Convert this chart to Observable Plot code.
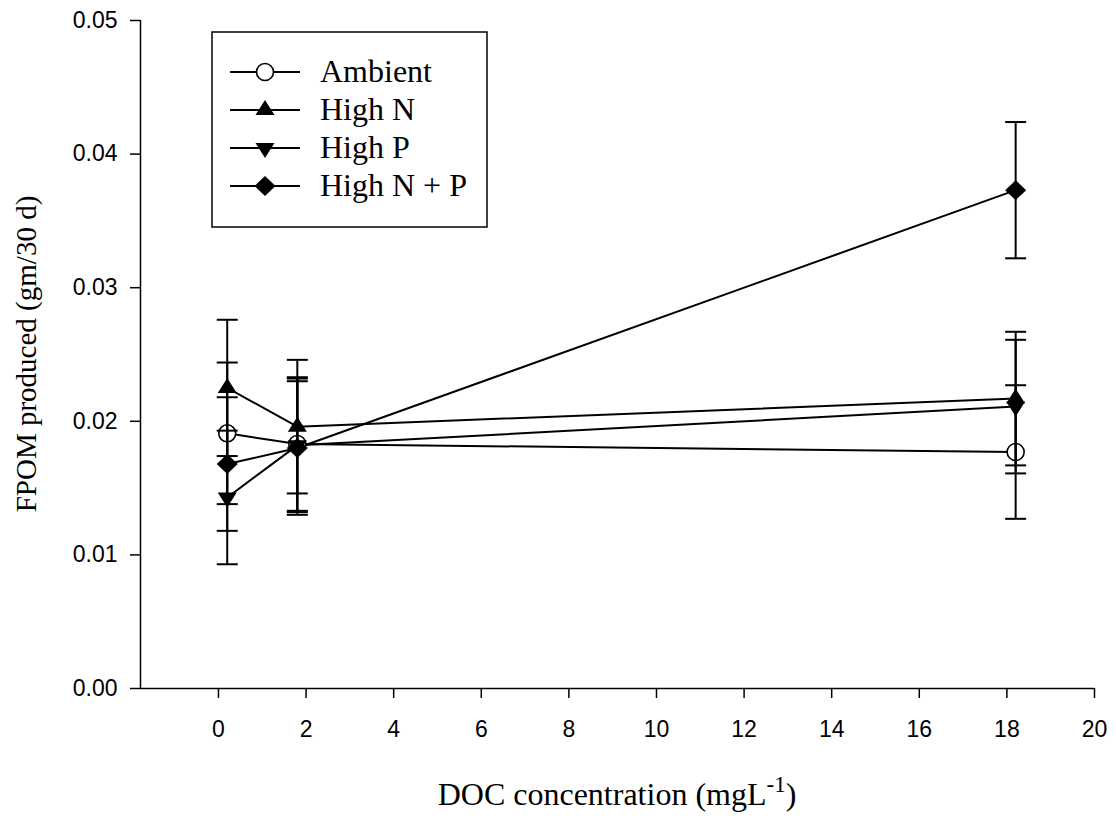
<!DOCTYPE html>
<html>
<head>
<meta charset="utf-8">
<script src="https://cdn.jsdelivr.net/npm/d3@7"></script>
<script src="https://cdn.jsdelivr.net/npm/@observablehq/plot@0.6"></script>
<style>
  html, body { margin: 0; padding: 0; background: #fff; }
  svg { display: block; }
</style>
</head>
<body>
<div id="chart"></div>
<script>
// ---- data ----
const series = ["Ambient", "High N", "High P", "High N + P"];
const doc = [0.2, 1.8, 18.2];
const ambient    = [0.0191, 0.0183, 0.0177];
const ambientErr = [0.0053, 0.0050, 0.0050];
const highN      = [0.0225, 0.0196, 0.0217];
const highNErr   = [0.0051, 0.0050, 0.0050];
const highP      = [0.0143, 0.0182, 0.0211];
const highPErr   = [0.0050, 0.0050, 0.0050];
const highNP     = [0.0168, 0.0180, 0.0373];
const highNPErr  = [0.0050, 0.0050, 0.0051];
const xTicks = [0, 2, 4, 6, 8, 10, 12, 14, 16, 18, 20];
const yTicks = [0, 0.01, 0.02, 0.03, 0.04, 0.05];

const values = [ambient, highN, highP, highNP];
const errors = [ambientErr, highNErr, highPErr, highNPErr];
const rows = series.flatMap((s, i) => doc.map((x, j) => ({
  series: s, x, y: values[i][j], lo: values[i][j] - errors[i][j], hi: values[i][j] + errors[i][j]
})));

// ---- custom symbols ----
const circleSym = {draw(c) { c.moveTo(8.5, 0); c.arc(0, 0, 8.5, 0, 2 * Math.PI); c.closePath(); }};
const upTri = {draw(c) { c.moveTo(0, -10); c.lineTo(9.5, 5); c.lineTo(-9.5, 5); c.closePath(); }};
const downTri = {draw(c) { c.moveTo(0, 10); c.lineTo(9.5, -5); c.lineTo(-9.5, -5); c.closePath(); }};
const diamondSym = {draw(c) { c.moveTo(0, -10); c.lineTo(10.5, 0); c.lineTo(0, 10); c.lineTo(-10.5, 0); c.closePath(); }};
const capSym = {draw(c) { c.moveTo(-10.5, 0); c.lineTo(10.5, 0); }};
const syms = [circleSym, upTri, downTri, diamondSym];

const bySeries = s => rows.filter(d => d.series === s);
const sans = "'Liberation Sans', Arial, sans-serif";

const chart = Plot.plot({
  width: 1116,
  height: 822,
  marginLeft: 140,
  marginRight: 22,
  marginTop: 20,
  marginBottom: 134,
  style: {fontFamily: sans, fontSize: "23px", color: "black", background: "white"},
  x: {domain: [-1.78, 20], label: null},
  y: {domain: [0, 0.05], label: null},
  marks: [
    Plot.axisX({ticks: xTicks, tickSize: 10, tickPadding: 22, tickFormat: d => String(d), fontSize: 23, fontFamily: sans, stroke: "black", strokeWidth: 1.5, fill: "black", label: null}),
    Plot.axisY({ticks: yTicks, tickSize: 10, tickPadding: 13, tickFormat: d3.format(".2f"), fontSize: 23, fontFamily: sans, stroke: "black", strokeWidth: 1.5, fill: "black", label: null}),
    Plot.ruleY([0], {stroke: "black", strokeWidth: 1.5}),
    Plot.ruleX([-1.78], {stroke: "black", strokeWidth: 1.5}),
    Plot.line(rows, {x: "x", y: "y", z: "series", stroke: "black", strokeWidth: 2}),
    Plot.dot(bySeries("Ambient"), {x: "x", y: "y", symbol: circleSym, fill: "white", stroke: "black", strokeWidth: 1.6}),
    Plot.ruleX(rows, {x: "x", y1: "lo", y2: "hi", stroke: "black", strokeWidth: 2}),
    Plot.dot(rows, {x: "x", y: "lo", symbol: capSym, stroke: "black", strokeWidth: 2, fill: "none"}),
    Plot.dot(rows, {x: "x", y: "hi", symbol: capSym, stroke: "black", strokeWidth: 2, fill: "none"}),
    Plot.dot(bySeries("High N"), {x: "x", y: "y", symbol: upTri, fill: "black", stroke: "none"}),
    Plot.dot(bySeries("High P"), {x: "x", y: "y", symbol: downTri, fill: "black", stroke: "none"}),
    Plot.dot(bySeries("High N + P"), {x: "x", y: "y", symbol: diamondSym, fill: "black", stroke: "none"})
  ]
});

document.getElementById("chart").appendChild(chart);

// ---- axis titles and legend (text) ----
const svg = d3.select(chart);
const serif = "'Liberation Serif', 'Times New Roman', serif";

const xt = svg.append("text")
  .attr("x", 617).attr("y", 805)
  .attr("text-anchor", "middle")
  .attr("font-family", serif).attr("font-size", 32).attr("fill", "black");
xt.append("tspan").text("DOC concentration (mgL");
xt.append("tspan").attr("dy", -13).attr("font-size", 23).text("-1");
xt.append("tspan").attr("dy", 13).text(")");

svg.append("text")
  .attr("transform", "translate(36,354) rotate(-90)")
  .attr("text-anchor", "middle")
  .attr("font-family", serif).attr("font-size", 29).attr("fill", "black")
  .text("FPOM produced (gm/30 d)");

const lg = svg.append("g");
lg.append("rect").attr("x", 212).attr("y", 32).attr("width", 275).attr("height", 195)
  .attr("fill", "white").attr("stroke", "black").attr("stroke-width", 1.5);
const ly = [72, 110, 148, 186];
series.forEach((s, i) => {
  const g = lg.append("g");
  g.append("line").attr("x1", 230).attr("x2", 300).attr("y1", ly[i]).attr("y2", ly[i])
    .attr("stroke", "black").attr("stroke-width", 2);
  const p = d3.path();
  syms[i].draw(p);
  g.append("path").attr("d", p.toString()).attr("transform", `translate(265,${ly[i]})`)
    .attr("fill", i === 0 ? "white" : "black").attr("stroke", i === 0 ? "black" : "none").attr("stroke-width", 1.6);
  g.append("text").attr("x", 320).attr("y", ly[i] + 10)
    .attr("text-anchor", "start")
    .attr("font-family", serif).attr("font-size", 32).attr("fill", "black").text(s);
});
</script>
</body>
</html>
